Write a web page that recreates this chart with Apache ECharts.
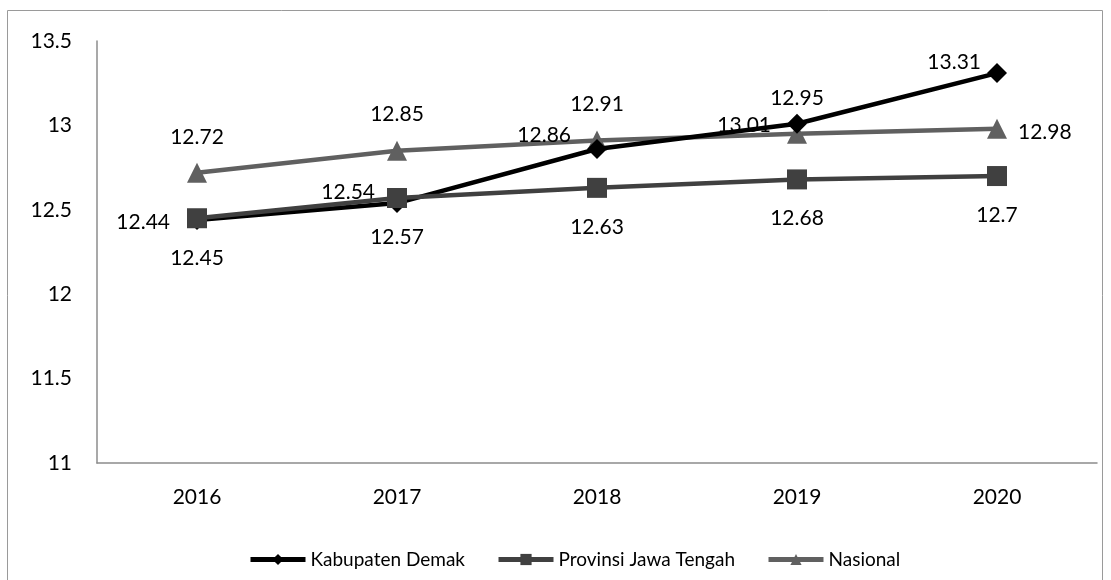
<!DOCTYPE html>
<html><head><meta charset="utf-8">
<script src="https://cdn.jsdelivr.net/npm/echarts@6/dist/echarts.min.js"></script>
<style>html,body{margin:0;padding:0;background:#fff}#c{width:1111px;height:580px}</style>
</head><body><div id="c"></div>
<script>
const categories = ['2016','2017','2018','2019','2020'];
const demak = [12.44, 12.54, 12.86, 13.01, 13.31];
const provinsi = [12.45, 12.57, 12.63, 12.68, 12.7];
const nasional = [12.72, 12.85, 12.91, 12.95, 12.98];
const yTicks = [11, 11.5, 12, 12.5, 13, 13.5];

const FONT = 'Lato';
const lbl = {color:'#000', fontSize:21, fontFamily:FONT, position:'inside', verticalAlign:'middle'};

function withLabels(vals, specs){
  return vals.map((v,i)=>({value:v, label:Object.assign({show:true}, lbl, specs[i])}));
}
const demakLab = [
  {align:'right', offset:[-27, 2]},
  {align:'right', offset:[-22, -11]},
  {align:'right', offset:[-26, -14]},
  {align:'right', offset:[-26, 2]},
  {align:'right', offset:[-16, -11]}
];
const provLab = [
  {align:'center', offset:[0, 40]},
  {align:'center', offset:[0, 39]},
  {align:'center', offset:[0, 39]},
  {align:'center', offset:[0, 39]},
  {align:'center', offset:[0, 39]}
];
const nasLab = [
  {align:'center', offset:[0, -35]},
  {align:'center', offset:[0, -36]},
  {align:'center', offset:[0, -36]},
  {align:'center', offset:[0, -36]},
  {align:'left', offset:[21, 3]}
];

const chart = echarts.init(document.getElementById('c'), null, {renderer:'canvas'});
chart.setOption({
  animation:false,
  graphic:[{type:'rect', shape:{x:7.5,y:10.5,width:1095,height:575}, style:{fill:'none', stroke:'#9a9a9a', lineWidth:1}, silent:true}],
  grid:{left:97, right:14, top:41, bottom:117},
  legend:{
    top:545, left:243, itemGap:31, itemWidth:55, itemHeight:14,
    lineStyle:{width:5},
    textStyle:{fontFamily:FONT, fontSize:19, color:'#000'},
    data:['Kabupaten Demak','Provinsi Jawa Tengah','Nasional']
  },
  xAxis:{
    type:'category', data:categories, boundaryGap:true,
    axisLine:{lineStyle:{color:'#8c8c8c', width:1.5}},
    axisTick:{show:false},
    axisLabel:{color:'#000', fontSize:21, fontFamily:FONT, margin:24}
  },
  yAxis:{
    type:'value', min:11, max:13.5, interval:0.5,
    axisLine:{show:true, lineStyle:{color:'#8c8c8c', width:1.5}},
    axisTick:{show:false},
    splitLine:{show:false},
    axisLabel:{color:'#000', fontSize:21, fontFamily:FONT, margin:25,
      formatter:v=>yTicks.includes(v)?String(v):''}
  },
  series:[
    {name:'Kabupaten Demak', type:'line', data:withLabels(demak, demakLab), z:3,
      symbol:'diamond', symbolSize:20, itemStyle:{color:'#000'}, lineStyle:{color:'#000', width:4.5}},
    {name:'Provinsi Jawa Tengah', type:'line', data:withLabels(provinsi, provLab), z:4,
      symbol:'rect', symbolSize:20, itemStyle:{color:'#404040'}, lineStyle:{color:'#404040', width:4.5}},
    {name:'Nasional', type:'line', data:withLabels(nasional, nasLab), z:2,
      symbol:'triangle', symbolSize:20, itemStyle:{color:'#606060'}, lineStyle:{color:'#606060', width:4.5}}
  ]
});
</script></body></html>
